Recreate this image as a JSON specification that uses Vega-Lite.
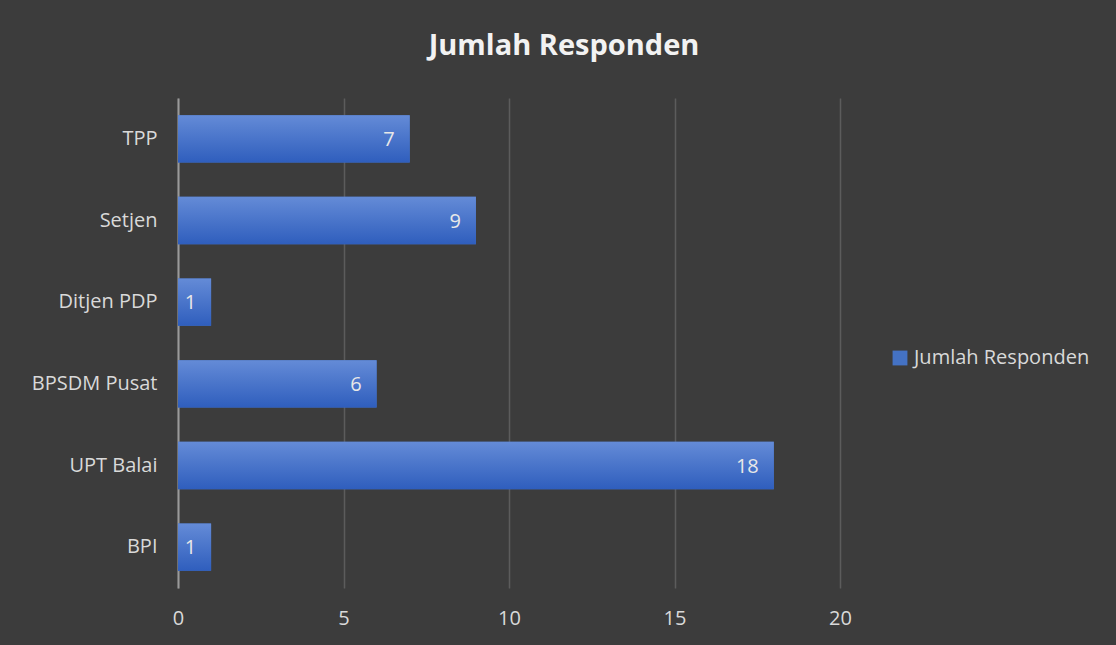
{
  "$schema": "https://vega.github.io/schema/vega-lite/v6.json",
  "width": 662,
  "height": 490,
  "autosize": {"type": "none"},
  "padding": {"left": 178, "top": 98, "right": 276, "bottom": 57},
  "background": "#3c3c3c",
  "config": {
    "view": {"stroke": null},
    "font": "Open Sans"
  },
  "title": {
    "text": "Jumlah Responden",
    "font": "Open Sans",
    "fontSize": 29,
    "fontWeight": "bold",
    "color": "#f2f2f2",
    "anchor": "middle",
    "frame": "group",
    "dx": 55,
    "offset": 37
  },
  "data": {
    "values": [
      {"unit": "TPP", "value": 7, "series": "Jumlah Responden"},
      {"unit": "Setjen", "value": 9, "series": "Jumlah Responden"},
      {"unit": "Ditjen PDP", "value": 1, "series": "Jumlah Responden"},
      {"unit": "BPSDM Pusat", "value": 6, "series": "Jumlah Responden"},
      {"unit": "UPT Balai", "value": 18, "series": "Jumlah Responden"},
      {"unit": "BPI", "value": 1, "series": "Jumlah Responden"}
    ]
  },
  "encoding": {
    "y": {
      "field": "unit",
      "type": "nominal",
      "sort": null,
      "scale": {"paddingInner": 0.42, "paddingOuter": 0.21},
      "axis": {
        "title": null,
        "ticks": false,
        "grid": false,
        "domain": true,
        "domainColor": "#9a9a9a",
        "domainWidth": 2,
        "labelColor": "#d9d9d9",
        "labelFontSize": 20,
        "labelFont": "Open Sans",
        "labelPadding": 21
      }
    },
    "x": {
      "field": "value",
      "type": "quantitative",
      "scale": {"domain": [0, 20], "nice": false},
      "axis": {
        "title": null,
        "values": [0, 5, 10, 15, 20],
        "ticks": false,
        "domain": false,
        "grid": true,
        "gridColor": "#5c5c5c",
        "gridWidth": 1.5,
        "labelFlush": false,
        "labelColor": "#d9d9d9",
        "labelFontSize": 20,
        "labelFont": "Open Sans",
        "labelPadding": 20
      }
    }
  },
  "layer": [
    {
      "mark": {"type": "bar"},
      "encoding": {
        "color": {
          "field": "series",
          "type": "nominal",
          "scale": {"range": ["#4472c4"]},
          "legend": {
            "title": null,
            "orient": "none",
            "legendX": 712,
            "legendY": 250,
            "symbolType": "square",
            "symbolSize": 220,
            "symbolStrokeWidth": 0,
            "labelColor": "#d9d9d9",
            "labelFontSize": 20,
            "labelFont": "Open Sans",
            "labelLimit": 400,
            "labelOffset": 4
          }
        }
      }
    },
    {
      "mark": {
        "type": "bar",
        "fill": {
          "gradient": "linear",
          "x1": 0, "y1": 0, "x2": 0, "y2": 1,
          "stops": [
            {"offset": 0, "color": "#648bd7"},
            {"offset": 1, "color": "#2f5ebd"}
          ]
        }
      },
      "encoding": {}
    },
    {
      "mark": {
        "type": "text",
        "align": "right",
        "baseline": "middle",
        "dx": -15,
        "dy": 1,
        "fontSize": 20,
        "font": "Open Sans",
        "color": "#e8e8e8"
      },
      "encoding": {
        "text": {"field": "value", "type": "quantitative"}
      }
    }
  ]
}
